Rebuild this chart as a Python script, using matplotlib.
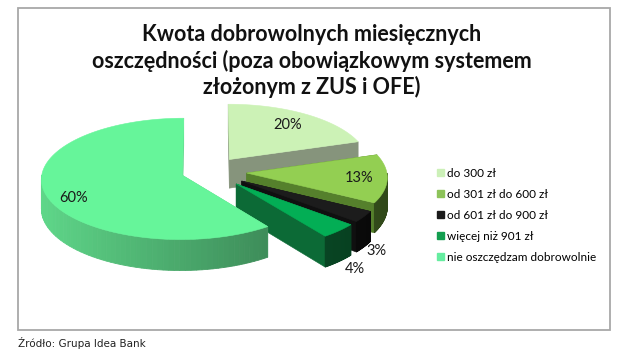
import numpy as np
import matplotlib
matplotlib.use("Agg")
import matplotlib.pyplot as plt
from matplotlib.patches import Polygon, Rectangle, Patch
from matplotlib.colors import to_rgb

# --- data ---
title = ("Kwota dobrowolnych miesięcznych\n"
         "oszczędności (poza obowiązkowym systemem\n"
         "złożonym z ZUS i OFE)")
labels = ["do 300 zł", "od 301 zł do 600 zł", "od 601 zł do 900 zł",
          "więcej niż 901 zł", "nie oszczędzam dobrowolnie"]
shares = [20, 13, 3, 4, 60]
source = "Źródło: Grupa Idea Bank"

# --- styling ---
top_colors = ["#CCF2B6", "#93CF52", "#1C1C1C", "#03AE55", "#66F59A"]
side_colors = ["#86947C", "#55802C", "#101010", "#0C6A36", "#5FD88A"]
legend_colors = ["#CCF0B8", "#8DC35A", "#1A1A1A", "#139E4F", "#66EDA0"]
explode = [0.25, 0.27, 0.28, 0.28, 0.20]
label_r = [0.75, 0.80, 1.10, 1.15, 0.80]
label_z = [0.0, 0.0, 1.0, 1.0, 0.25]
draw_order = [0, 1, 2, 3, 4]  # far -> near

# pie geometry, in pixel space (axes span the whole figure)
CX, CY = 209, 171.5
RX, RY = 140, 60
DEPTH = 29
PERSP = 0.06
FONT = "Lato"


def project(X, Y, z):
    s = 1.0 / (1.0 + PERSP * Y)
    return CX + RX * X * s, CY - RY * Y * s + DEPTH * z * s


def shade(color, f):
    return tuple(np.clip(np.array(to_rgb(color)) * f, 0, 1))


def draw_slice(ax, a1, a2, e, top, side):
    mid = np.radians((a1 + a2) / 2)
    ox, oy = e * np.cos(mid), e * np.sin(mid)

    def rim(t, z):
        return project(ox + np.cos(t), oy + np.sin(t), z)

    apex_t = project(ox, oy, 0)
    apex_b = project(ox, oy, 1)

    # radial cut faces, far one first
    cuts = []
    for a in (a1, a2):
        t = np.radians(a)
        key = oy + 0.5 * np.sin(t)
        cuts.append((key, [apex_t, rim(t, 0), rim(t, 1), apex_b]))
    for key, pts in sorted(cuts, key=lambda c: -c[0]):
        ax.add_patch(Polygon(pts, closed=True, fc=side, ec=side, lw=0.4))

    # curved outer wall, near half only, shaded by angle
    lo, hi = max(a1, -180), min(a2, 0)
    if hi > lo:
        ts = np.radians(np.linspace(lo, hi, 60))
        for t0, t1 in zip(ts[:-1], ts[1:]):
            f = 0.78 - 0.22 * np.cos((t0 + t1) / 2)
            c = shade(side, f)
            pts = [rim(t0, 0), rim(t1, 0), rim(t1, 1), rim(t0, 1)]
            ax.add_patch(Polygon(pts, closed=True, fc=c, ec=c, lw=0.6))

    # top face
    ts = np.radians(np.linspace(a1, a2, 120))
    pts = [apex_t] + [rim(t, 0) for t in ts]
    ax.add_patch(Polygon(pts, closed=True, fc=top, ec=top, lw=0.4))
    return ox, oy


fig = plt.figure(figsize=(6.25, 3.61), dpi=100)
ax = fig.add_axes([0, 0, 1, 1])
ax.set_xlim(0, 625)
ax.set_ylim(361, 0)
ax.axis("off")

ax.add_patch(Rectangle((18, 8), 592, 322, fill=False, ec="#A8A8A8", lw=1.3))

# slice angles: start at 12 o'clock, clockwise
bounds = 90 - 3.6 * np.concatenate([[0], np.cumsum(shares)])
slices = [(bounds[i + 1], bounds[i]) for i in range(len(shares))]

offsets = {}
for i in draw_order:
    a1, a2 = slices[i]
    offsets[i] = draw_slice(ax, a1, a2, explode[i], top_colors[i], side_colors[i])

for i, (a1, a2) in enumerate(slices):
    mid = np.radians((a1 + a2) / 2)
    ox, oy = offsets[i]
    x, y = project(ox + label_r[i] * np.cos(mid), oy + label_r[i] * np.sin(mid), label_z[i])
    ax.text(x, y, f"{shares[i]}%", ha="center", va="center",
            fontsize=10.5, family=FONT, color="#1A1A1A")

ax.text(312, 61, title, ha="center", va="center", fontsize=15.5,
        fontweight="bold", family=FONT, linespacing=1.22, color="#111111")

handles = [Patch(fc=c, ec=c) for c in legend_colors]
ax.legend(handles, labels, loc="upper left", bbox_to_anchor=(432 / 625, 1 - 163 / 361),
          frameon=False, handlelength=0.6, handleheight=0.6,
          handletextpad=0.3, labelspacing=0.85, borderaxespad=0,
          prop={"family": FONT, "size": 8.5})

ax.text(18, 343, source, ha="left", va="center", fontsize=7.5,
        family="DejaVu Sans", color="#222222")

fig.savefig("out.png", dpi=100)
